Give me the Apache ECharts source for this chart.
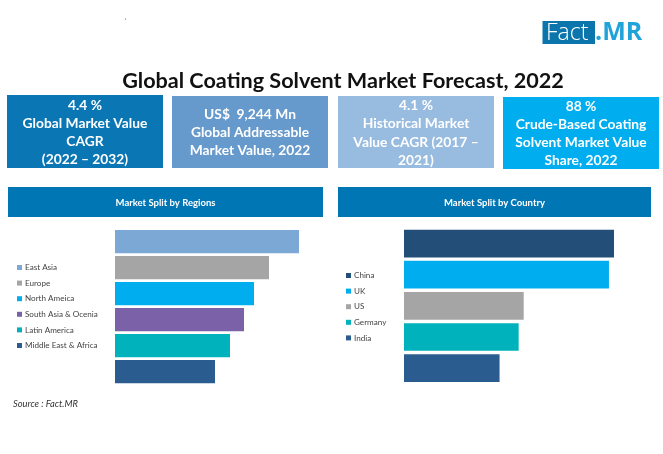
<!DOCTYPE html>
<html><head><meta charset="utf-8">
<style>html,body{margin:0;padding:0;background:#fff}#c{width:663px;height:454px}</style>
<script src="https://cdn.jsdelivr.net/npm/echarts@6/dist/echarts.min.js"></script>
</head><body><div id="c"></div>
<script>
const regionNames = ['East Asia','Europe','North Ameica','South Asia & Ocenia','Latin America','Middle East & Africa'];
const regionValues = [92, 77, 69.5, 64.5, 57.5, 50];
const regionColors = ['#7CA8D6','#A5A5A5','#00AEEF','#7B62A8','#00B2BB','#2A5C8F'];
const countryNames = ['China','UK','US','Germany','India'];
const countryValues = [100, 97.6, 57, 54.6, 45.5];
const countryColors = ['#234E78','#00AEEF','#A5A5A5','#00B2BB','#2A5C8F'];
const titleText = 'Global Coating Solvent Market Forecast, 2022';
const kpiTexts = ['4.4 %\nGlobal Market Value\nCAGR\n(2022 – 2032)','US$  9,244 Mn\nGlobal Addressable\nMarket Value, 2022','4.1 %\nHistorical Market\nValue CAGR (2017 –\n2021)','88 %\nCrude-Based Coating\nSolvent Market Value\nShare, 2022'];
const panelTitles = ['Market Split by Regions','Market Split by Country'];
const sourceText = 'Source : Fact.MR';

const FONT = 'Lato';
const chart = echarts.init(document.getElementById('c'), null, {renderer:'canvas'});

function seriesFor(names, values, colors, axisIndex, stack){
  return names.map((n,i)=>({
    name:n, type:'bar', stack, xAxisIndex:axisIndex, yAxisIndex:axisIndex,
    barCategoryGap:'11%', itemStyle:{color:colors[i]}, silent:true,
    data:names.map((_,j)=> j===i ? values[i] : null)
  }));
}
function legendFor(names, left, top){
  return {orient:'vertical', left, top, data:names, icon:'rect', itemWidth:5, itemHeight:5, itemGap:4.6,
    selectedMode:false, padding:0, textStyle:{fontFamily:FONT,fontSize:8.1,color:'#444',lineHeight:11,padding:[0,0,0,-2]}};
}
const kpis = [
 {x:7,y:95,w:156,h:73,c:'#0A76B4',t:'#fff',cy:132.5},
 {x:172,y:96,w:156,h:72,c:'#6699CC',t:'#fff',cy:132.5},
 {x:338,y:96,w:156,h:72,c:'#98BBE0',t:'#fff',cy:133},
 {x:503,y:97,w:156,h:72,c:'#00AEEF',t:'#fff',cy:133.5}
];
const gfx = [];
kpis.forEach((k,i)=>{
  gfx.push({type:'rect',shape:{x:k.x,y:k.y,width:k.w,height:k.h},style:{fill:k.c},silent:true});
  gfx.push({type:'text',x:k.x+k.w/2,y:k.cy,silent:true,style:{text:kpiTexts[i],fill:k.t,font:'bold 13.8px '+FONT,align:'center',verticalAlign:'middle',lineHeight:18.2}});
});
[[8,315],[338,313]].forEach((p,i)=>{
  gfx.push({type:'rect',shape:{x:p[0],y:187,width:p[1],height:30},style:{fill:'#0076B5'},silent:true});
  gfx.push({type:'text',x:p[0]+p[1]/2,y:202.5,silent:true,style:{text:panelTitles[i],fill:'#fff',font:'bold 9.5px '+FONT,align:'center',verticalAlign:'middle'}});
});
gfx.push({type:'rect',shape:{x:542.5,y:21,width:52.5,height:23},style:{fill:'#0B75AC'},silent:true});
gfx.push({type:'text',x:546,y:33,silent:true,style:{text:'Fact',fill:'#fff',font:'300 23px "Open Sans"',verticalAlign:'middle'}});
gfx.push({type:'text',x:595,y:33,silent:true,style:{text:'.MR',fill:'#1FA3D8',font:'bold 25px "Open Sans"',verticalAlign:'middle'}});
gfx.push({type:'text',x:13,y:403.5,silent:true,style:{text:sourceText,fill:'#333',font:'italic 9.3px '+FONT,verticalAlign:'middle'}});
gfx.push({type:'circle',shape:{cx:125.5,cy:19,r:0.6},style:{fill:'#555'},silent:true});

chart.setOption({
  animation:false, backgroundColor:'#fff',
  title:{text:titleText,left:343,top:81,textAlign:'center',textVerticalAlign:'middle',padding:0,
    textStyle:{fontFamily:FONT,fontWeight:'bold',fontSize:21.6,color:'#111'}},
  grid:[{left:115,top:228.6,width:200,height:156},{left:404,top:228,width:210,height:155.7}],
  xAxis:[{gridIndex:0,type:'value',min:0,max:100,show:false},{gridIndex:1,type:'value',min:0,max:100,show:false}],
  yAxis:[{gridIndex:0,type:'category',inverse:true,data:regionNames,show:false},{gridIndex:1,type:'category',inverse:true,data:countryNames,show:false}],
  legend:[legendFor(regionNames,17,262),legendFor(countryNames,346,270)],
  series:[...seriesFor(regionNames,regionValues,regionColors,0,'r'),...seriesFor(countryNames,countryValues,countryColors,1,'c')],
  graphic:{elements:gfx}
});
</script></body></html>
